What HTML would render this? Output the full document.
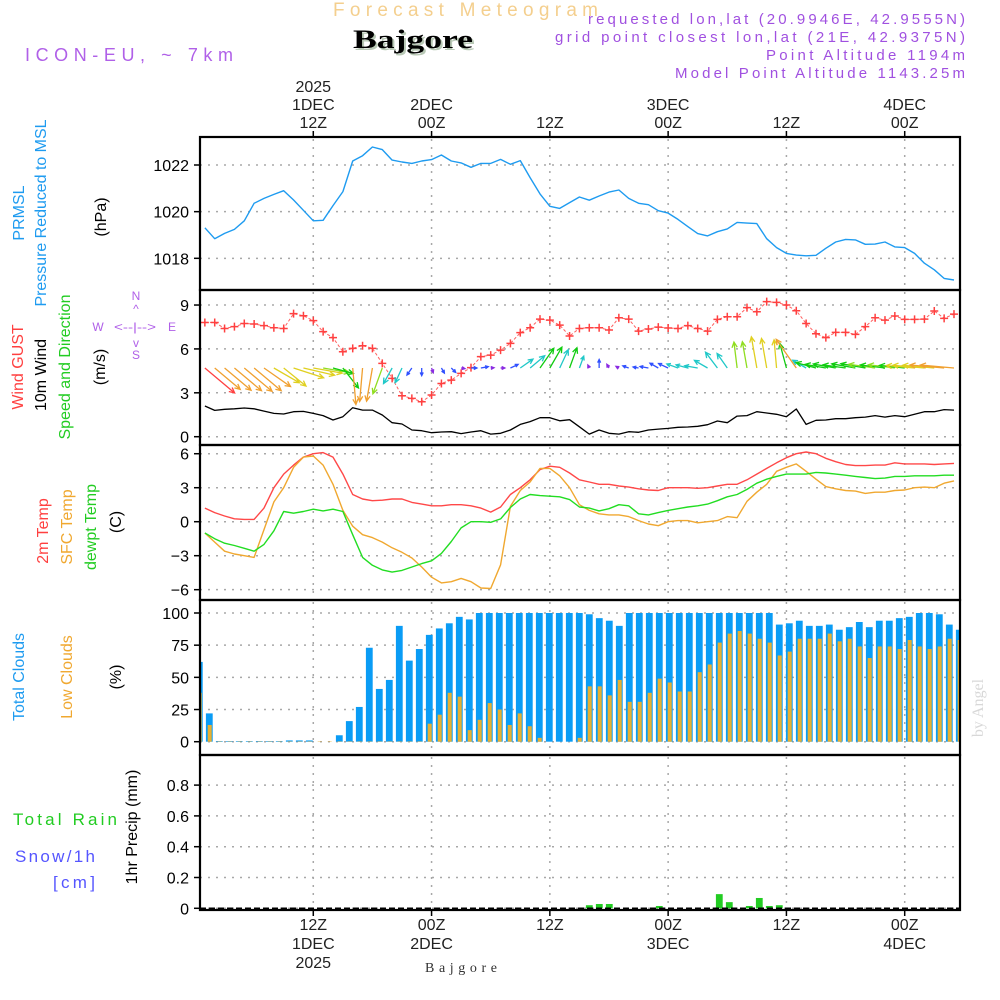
<!DOCTYPE html>
<html><head><meta charset="utf-8"><title>Forecast Meteogram - Bajgore</title>
<style>
html,body{margin:0;padding:0;background:#fff;}
svg{display:block;font-family:"Liberation Sans",sans-serif;}
</style></head>
<body>
<svg id="chart" width="1000" height="1000" viewBox="0 0 1000 1000" xmlns="http://www.w3.org/2000/svg">
<defs><clipPath id="plotclip"><rect x="200" y="137" width="760" height="773"/></clipPath></defs>
<g>
<text x="333" y="16" font-size="19" fill="#f4cf8e" textLength="265" lengthAdjust="spacing">Forecast Meteogram</text>
<text x="355" y="50" font-size="26" font-weight="bold" font-family="Liberation Serif,serif" fill="#b9c9b6" textLength="120" lengthAdjust="spacingAndGlyphs">Bajgore</text>
<text x="353" y="48" font-size="26" font-weight="bold" font-family="Liberation Serif,serif" fill="#000" textLength="120" lengthAdjust="spacingAndGlyphs">Bajgore</text>
<text x="25" y="61" font-size="18" fill="#b060e8" textLength="208" lengthAdjust="spacing">ICON-EU, ~ 7km</text>
<text x="965" y="24" font-size="15" fill="#a050e0" text-anchor="end" textLength="377" lengthAdjust="spacing">requested lon,lat (20.9946E, 42.9555N)</text>
<text x="965" y="42" font-size="15" fill="#a050e0" text-anchor="end" textLength="410" lengthAdjust="spacing">grid point closest lon,lat (21E, 42.9375N)</text>
<text x="965" y="60" font-size="15" fill="#a050e0" text-anchor="end" textLength="199" lengthAdjust="spacing">Point Altitude 1194m</text>
<text x="965" y="78" font-size="15" fill="#a050e0" text-anchor="end" textLength="290" lengthAdjust="spacing">Model Point Altitude 1143.25m</text>
</g>
<g font-size="16">
<text transform="translate(24,213) rotate(-90)" text-anchor="middle" fill="#1e9bf0">PRMSL</text>
<text transform="translate(46,213) rotate(-90)" text-anchor="middle" fill="#1e9bf0" textLength="187" lengthAdjust="spacing">Pressure Reduced to MSL</text>
<text transform="translate(106,217) rotate(-90)" text-anchor="middle" fill="#000">(hPa)</text>
<text transform="translate(23,367) rotate(-90)" text-anchor="middle" fill="#ff4040">Wind GUST</text>
<text transform="translate(46,375) rotate(-90)" text-anchor="middle" fill="#000">10m Wind</text>
<text transform="translate(70,367) rotate(-90)" text-anchor="middle" fill="#22cc22" textLength="145" lengthAdjust="spacing">Speed and Direction</text>
<text transform="translate(105,367) rotate(-90)" text-anchor="middle" fill="#000">(m/s)</text>
<g fill="#b060e8" font-size="12" text-anchor="middle">
<text x="136" y="300">N</text><text x="136" y="313">^</text>
<text x="98" y="331">W</text><text x="135" y="331" textLength="42" lengthAdjust="spacingAndGlyphs">&lt;--|--&gt;</text><text x="172" y="331">E</text>
<text x="136" y="347">v</text><text x="136" y="359">S</text>
</g>
<text transform="translate(48,531) rotate(-90)" text-anchor="middle" fill="#ff4040">2m Temp</text>
<text transform="translate(72,527) rotate(-90)" text-anchor="middle" fill="#f0a830">SFC Temp</text>
<text transform="translate(96,527) rotate(-90)" text-anchor="middle" fill="#22cc22">dewpt Temp</text>
<text transform="translate(121,522) rotate(-90)" text-anchor="middle" fill="#000">(C)</text>
<text transform="translate(24,677) rotate(-90)" text-anchor="middle" fill="#1e9bf0">Total Clouds</text>
<text transform="translate(72,677) rotate(-90)" text-anchor="middle" fill="#f0a830">Low Clouds</text>
<text transform="translate(121,677) rotate(-90)" text-anchor="middle" fill="#000">(%)</text>
<text transform="translate(137,827) rotate(-90)" text-anchor="middle" fill="#000">1hr Precip (mm)</text>
<text x="13" y="825" font-size="17" fill="#22cc22" textLength="104" lengthAdjust="spacing">Total   Rain</text>
<text x="15" y="862" font-size="17" fill="#5555ff" textLength="80" lengthAdjust="spacing">Snow/1h</text>
<text x="53" y="888" font-size="17" fill="#5555ff" textLength="42" lengthAdjust="spacing">[cm]</text>
</g>
<text transform="translate(983,708) rotate(-90)" text-anchor="middle" font-family="Liberation Serif,serif" font-size="16" fill="#d8d8d8">by Angel</text>
<text x="461" y="972" text-anchor="middle" font-family="Liberation Serif,serif" font-size="14" fill="#333" textLength="72" lengthAdjust="spacing">Bajgore</text>
<g id="grid"></g>
<g id="marks" clip-path="url(#plotclip)"></g>
<g id="axes"></g>
</svg>
<script>
// ---- data (hour index starts at 1 = 2025-12-01 01Z) ----
const pressure = [1019.31,1018.84,1019.07,1019.24,1019.61,1020.36,1020.57,1020.74,1020.9,1020.5,1020.06,1019.61,1019.63,1020.26,1020.86,1022.17,1022.4,1022.77,1022.66,1022.21,1022.13,1022.07,1022.17,1022.23,1022.43,1022.17,1022.09,1021.9,1022.07,1022.07,1022.24,1022.03,1022.19,1021.46,1020.76,1020.23,1020.14,1020.39,1020.63,1020.49,1020.67,1020.84,1020.93,1020.57,1020.36,1020.3,1020.04,1019.94,1019.67,1019.36,1019.06,1018.96,1019.14,1019.26,1019.54,1019.51,1019.49,1018.84,1018.46,1018.21,1018.14,1018.11,1018.13,1018.43,1018.7,1018.81,1018.79,1018.6,1018.61,1018.7,1018.49,1018.46,1018.21,1017.79,1017.51,1017.14,1017.07];
const gust = [7.81,7.81,7.40,7.52,7.74,7.70,7.59,7.45,7.40,8.41,8.27,7.93,7.18,6.77,5.81,6.04,6.22,6.04,5.01,3.99,2.80,2.62,2.39,2.85,3.64,3.87,4.33,4.72,5.47,5.58,5.92,6.38,7.11,7.45,8.04,7.97,7.63,6.88,7.40,7.45,7.45,7.29,8.13,8.04,7.22,7.36,7.49,7.43,7.40,7.59,7.40,7.22,8.02,8.20,8.20,8.82,8.54,9.23,9.18,9.0,8.61,7.74,7.04,6.77,7.13,7.13,6.99,7.52,8.13,7.97,8.25,8.02,8.02,8.04,8.59,8.09,8.38];
const windSpeed = [2.10,1.80,1.87,1.91,1.96,1.91,1.75,1.59,1.55,1.71,1.73,1.59,1.44,1.14,1.37,1.98,1.82,1.82,1.48,0.96,0.87,0.46,0.41,0.27,0.32,0.34,0.21,0.32,0.41,0.18,0.23,0.46,0.84,1.03,1.30,1.30,1.09,1.16,0.68,0.18,0.46,0.23,0.18,0.34,0.30,0.46,0.52,0.57,0.64,0.66,0.71,0.82,1.07,0.96,1.41,1.44,1.71,1.62,1.53,1.37,1.89,0.84,1.12,1.14,1.23,1.23,1.30,1.34,1.44,1.34,1.44,1.37,1.53,1.71,1.71,1.85,1.82];
const windDir = [310,310,310,310,310,310,305,300,309,288,283,280,280,285,322,355,5,10,20,29,25,35,0,340,330,315,280,270,260,265,270,245,235,230,215,210,205,200,200,155,180,150,120,110,100,100,120,115,110,105,100,120,143,145,173,170,170,170,175,165,145,120,105,100,100,98,100,100,98,97,97,96,95,95,95,95,95];
const temp2m = [1.2,0.8,0.5,0.26,0.2,0.2,1.2,3.0,4.2,5.0,5.7,6.0,6.1,5.7,4.2,2.4,2.0,1.85,1.9,2.0,2.0,1.7,1.55,1.4,1.4,1.5,1.5,1.4,1.2,0.85,1.3,2.4,3.0,3.7,4.6,4.9,4.8,4.3,3.7,3.5,3.3,3.3,3.15,3.05,2.9,2.8,2.75,3.0,3.0,3.0,2.95,3.0,3.15,3.3,3.3,3.7,4.2,4.7,5.2,5.65,6.0,6.15,6.0,5.6,5.3,5.05,4.95,4.95,5.0,5.0,5.2,5.1,5.1,5.1,5.05,5.1,5.15];
const tempSfc = [-1.0,-1.8,-2.6,-2.85,-3.0,-3.15,-0.7,1.75,3.0,4.8,5.7,5.8,5.0,3.3,1.0,-0.4,-1.15,-1.4,-1.8,-2.3,-2.7,-3.2,-4.0,-4.9,-5.4,-5.3,-5.0,-5.3,-5.85,-5.9,-3.8,1.35,2.75,3.5,4.7,4.7,4.05,3.0,1.5,1.0,0.7,0.6,0.6,0.45,0.1,-0.2,-0.35,0.0,0.1,0.1,-0.1,0,0.1,0.45,0.35,1.8,2.6,3.3,4.45,4.8,5.1,4.45,3.75,3.1,2.9,2.75,2.7,2.5,2.6,2.6,2.75,2.8,3.0,3.05,3.0,3.4,3.6];
const dewpt = [-1.0,-1.5,-1.9,-2.1,-2.35,-2.6,-2.0,-0.8,0.9,0.75,0.9,1.1,0.95,1.1,0.9,-1.15,-3.15,-3.85,-4.25,-4.45,-4.3,-4.0,-3.7,-3.45,-2.8,-1.75,-0.55,0,0,-0.05,0.25,1.25,2.0,2.4,2.3,2.25,2.2,1.95,1.3,1.2,0.95,1.15,1.5,1.4,0.7,0.6,0.8,1.0,1.15,1.3,1.4,1.55,1.85,2.2,2.4,2.85,3.4,3.75,4.0,4.2,4.2,4.2,4.35,4.3,4.2,4.1,4.0,3.9,3.8,3.85,4.0,4.0,4.05,4.05,4.05,4.1,4.1];
// cloud / precip bars: one per hour, bar index 0 = 2025-12-01 00Z
const totalClouds = [62,22,0.5,0.5,0.5,0.5,0.5,0.5,0.5,1,1,1,0,0,5,16,27,73,41,48,90,63,72,83,88,92,97,95,100,100,100,100,100,100,100,100,100,100,100,99,96,94,90,100,100,100,100,100,100,100,100,100,100,100,100,100,100,100,91,92,94,90,90,91,87,89,93,89,94,94,96,97,100,100,99,91,87];
const lowClouds = [38,13,0.3,0.3,0.3,0.3,0.3,0.3,0.3,0.3,0.3,0.3,0.3,0.3,0.3,0.3,0.3,0.3,0.3,0.3,0.3,0.3,0.3,14,21,38,35,9,17,30,25,13,22,12,3,0,0,0,3,43,43,36,48,31,31,38,49,46,39,39,54,60,77,84,86,84,80,77,67,70,80,80,80,84,78,80,74,65,74,74,72,79,74,72,74,80,79];
const precip = [0,0,0,0,0,0,0,0,0,0,0,0,0,0,0,0,0,0,0,0,0,0,0,0,0,0,0,0,0,0,0,0,0,0,0,0,0,0,0,0.02,0.028,0.028,0,0,0,0,0.015,0,0,0,0,0,0.092,0.04,0,0.015,0.067,0.015,0.02,0,0,0,0,0,0,0,0,0,0,0,0,0,0,0,0,0,0];
const timeTickHours = [12,24,36,48,60,72];
const topTickLabels = [["2025","1DEC","12Z"],["2DEC","00Z"],["12Z"],["3DEC","00Z"],["12Z"],["4DEC","00Z"]];
const bottomTickLabels = [["12Z","1DEC","2025"],["00Z","2DEC"],["12Z"],["00Z","3DEC"],["12Z"],["00Z","4DEC"]];
const pressureTicks = [1018,1020,1022];
const windTicks = [0,3,6,9];
const tempTicks = [-6,-3,0,3,6];
const cloudTicks = [0,25,50,75,100];
const precipTicks = [0,0.2,0.4,0.6,0.8];
const precipTickLabels = ["0","0.2","0.4","0.6","0.8"];

// ---- scales ----
function xs(h){ return 195 + 9.857*h; }
function xb(k){ return 199.3 + 10*k; }
function yP(v){ return 165 + (1022 - v)*23.33; }
function yW(v){ return 436.7 - 14.63*v; }
function yT(v){ return 521.7 - 11.33*v; }
function yC(v){ return 741.7 - 1.287*v; }
function yR(v){ return 908.3 - 154*v; }

const NS="http://www.w3.org/2000/svg";
const grid=document.getElementById('grid'), marks=document.getElementById('marks'), axes=document.getElementById('axes');
function mk(tag, attrs, parent){ const e=document.createElementNS(NS,tag); for(const k in attrs) e.setAttribute(k,attrs[k]); parent.appendChild(e); return e; }

const panels=[{n:'pressure',t:137,b:290,ticks:pressureTicks,f:yP,lab:pressureTicks.map(String)},
 {n:'wind',t:290,b:445,ticks:windTicks,f:yW,lab:windTicks.map(String)},
 {n:'temperature',t:445,b:600,ticks:tempTicks,f:yT,lab:tempTicks.map(v=>v<0?'\u2212'+(-v):String(v))},
 {n:'clouds',t:600,b:755,ticks:cloudTicks,f:yC,lab:cloudTicks.map(String)},
 {n:'precip',t:755,b:910,ticks:precipTicks,f:yR,lab:precipTickLabels}];

panels.forEach(p=>{
  p.ticks.forEach((v,i)=>{
    const y=p.f(v);
    const gl=mk('line',{x1:200,x2:960,y1:y,y2:y,stroke:'#a8a8a8','stroke-width':1.5,'stroke-dasharray':'2,6'},grid);
    
    
    const tk=mk('line',{x1:194,x2:200,y1:y,y2:y,stroke:'#000','stroke-width':1.5},axes);
    
    
    const tl=mk('text',{x:189,y:y+6,'text-anchor':'end','font-size':16,fill:'#000'},axes);
    tl.textContent=p.lab[i];
    
    
  });
  timeTickHours.forEach(h=>{
    const vg=mk('line',{x1:xs(h),x2:xs(h),y1:p.t+2,y2:p.b-2,stroke:'#a8a8a8','stroke-width':1.5,'stroke-dasharray':'2,6'},grid);
    
    
  });
  const r=mk('rect',{x:200,y:p.t,width:760,height:p.b-p.t,fill:'none',stroke:'#000','stroke-width':2.2},axes);
  
  
});

timeTickHours.forEach((h,i)=>{
  const x=xs(h);
  mk('line',{x1:x,x2:x,y1:131,y2:137,stroke:'#000','stroke-width':1.5},axes);
  mk('line',{x1:x,x2:x,y1:910,y2:916,stroke:'#000','stroke-width':1.5},axes);
  const top=topTickLabels[i];
  top.forEach((s,j)=>{
    const t=mk('text',{x:x,y:128-(top.length-1-j)*18,'text-anchor':'middle','font-size':16,fill:'#222'},axes);
    t.textContent=s;
    
    
  });
  bottomTickLabels[i].forEach((s,j)=>{
    const t=mk('text',{x:x,y:930+j*19,'text-anchor':'middle','font-size':16,fill:'#222'},axes);
    t.textContent=s;
    
    
  });
});

function line(arr, f, color, w, name){
  const pts=arr.map((v,i)=>xs(i+1).toFixed(1)+','+f(v).toFixed(1)).join(' ');
  const pl=mk('polyline',{points:pts,fill:'none',stroke:color,'stroke-width':w,'stroke-linejoin':'round'},marks);
  
  
  return pl;
}
line(pressure,yP,'#1e9bf0',1.4,'pressure-line');

// clouds
totalClouds.forEach((v,k)=>{
  const b=mk('rect',{x:xb(k)-3.4,y:yC(v),width:6.8,height:yC(0)-yC(v),fill:'#0a9cf5'},marks);
  
  
});
lowClouds.forEach((v,k)=>{
  const b=mk('rect',{x:xb(k)-1.6,y:yC(v),width:4,height:yC(0)-yC(v),fill:'#e8b030'},marks);
  
  
});
// precip
precip.forEach((v,k)=>{
  if(v<=0) return;
  const b=mk('rect',{x:xb(k)-3.4,y:yR(v),width:6.8,height:yR(0)-yR(v),fill:'#22cc22'},marks);
  
  
});
mk('line',{x1:200,x2:960,y1:yR(0),y2:yR(0),stroke:'#000','stroke-width':1.5,'stroke-dasharray':'6,3'},marks);

// temperatures
line(temp2m,yT,'#ff4848',1.4,'temp-2m-line');
line(tempSfc,yT,'#f0a830',1.4,'temp-sfc-line');
line(dewpt,yT,'#22dd22',1.4,'dewpoint-line');

// wind speed
line(windSpeed,yW,'#000',1.3,'wind-speed-line');
// gust
const gl=line(gust,yW,'#ff6060',1,'gust-line');
gl.setAttribute('stroke-dasharray','3,2');
gust.forEach((v,i)=>{
  const x=xs(i+1), y=yW(v);
  const g=mk('path',{d:`M${x-4},${y}H${x+4}M${x},${y-4}V${y+4}`,stroke:'#ff4040','stroke-width':1.5,fill:'none'},marks);
  
  
});
// wind arrows
function speedColor(s){
  if(s<0.3) return '#8a2be2'; if(s<0.6) return '#3050ff'; if(s<1.1) return '#20c8c8';
  if(s<1.4) return '#10cc10'; if(s<1.5) return '#90dd20'; if(s<1.75) return '#e0d020';
  if(s<2.0) return '#f0a030'; return '#ff4040';
}
windDir.forEach((d,i)=>{
  const s=windSpeed[i], x=xs(i+1), y=368;
  const to=(d+180)*Math.PI/180, L=s*18.5;
  const dx=Math.sin(to)*L, dy=-Math.cos(to)*L;
  const hx=x+dx, hy=y+dy, ang=Math.atan2(dy,dx), hl=Math.min(6,Math.max(3.5,L*0.35));
  const a1=ang+Math.PI-0.45, a2=ang+Math.PI+0.45;
  const c=speedColor(s);
  const p=mk('path',{d:`M${x},${y}L${hx},${hy}M${hx+hl*Math.cos(a1)},${hy+hl*Math.sin(a1)}L${hx},${hy}L${hx+hl*Math.cos(a2)},${hy+hl*Math.sin(a2)}`,stroke:c,'stroke-width':1.3,fill:'none'},marks);
  
  
});
</script>
</body></html>
